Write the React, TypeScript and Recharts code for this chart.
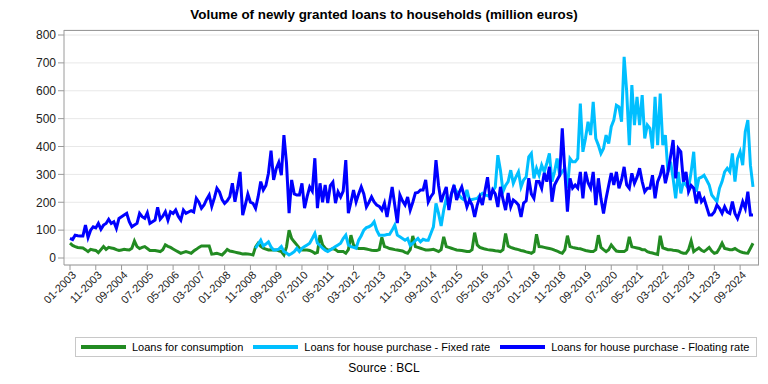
import React from 'react';
import { LineChart, Line, XAxis, YAxis, CartesianGrid } from 'recharts';

// monthly figures, million euros, 01-2003 .. 02-2025
const consumption: number[] = [
  53, 45, 41, 38, 37, 36, 30, 23, 31, 29, 27, 19,
  30, 41, 31, 38, 36, 34, 30, 27, 29, 31, 30, 29,
  35, 61, 41, 34, 38, 41, 34, 27, 27, 27, 25, 23,
  30, 47, 42, 38, 32, 27, 22, 17, 20, 23, 20, 17,
  25, 31, 38, 43, 43, 43, 43, 14, 15, 17, 14, 11,
  20, 31, 25, 23, 21, 19, 17, 14, 15, 14, 13, 11,
  40, 53, 42, 35, 32, 29, 30, 29, 29, 26, 23, 11,
  40, 100, 70, 58, 47, 35, 29, 29, 29, 27, 23, 17,
  20, 82, 47, 35, 29, 30, 34, 30, 23, 23, 23, 17,
  30, 82, 47, 38, 34, 34, 34, 32, 30, 28, 27, 27,
  30, 74, 41, 38, 34, 32, 30, 29, 27, 25, 20, 17,
  30, 79, 41, 38, 35, 32, 29, 29, 30, 31, 27, 23,
  30, 76, 41, 38, 35, 32, 29, 28, 27, 25, 23, 23,
  30, 91, 47, 38, 35, 32, 30, 29, 28, 26, 25, 23,
  30, 88, 43, 38, 35, 32, 30, 27, 25, 22, 20, 17,
  23, 85, 41, 40, 38, 36, 34, 32, 28, 25, 20, 17,
  30, 80, 41, 38, 36, 34, 33, 30, 27, 25, 23, 23,
  30, 82, 38, 30, 23, 30, 47, 35, 25, 23, 23, 23,
  30, 76, 40, 38, 36, 34, 30, 30, 23, 20, 18, 15,
  13, 80, 36, 33, 30, 30, 28, 27, 25, 20, 17, 17,
  30, 61, 23, 30, 36, 28, 23, 30, 38, 25, 17, 20,
  35, 53, 34, 32, 30, 30, 34, 28, 23, 20, 18, 17,
  35, 53,
];

// fixed rate series only starts in 01-2009
const fixedStart = '01-2009';
const fixedRate: number[] = [
  35, 50, 64, 43, 50, 58, 40, 29, 29, 32, 41, 23,
  18, 11, 16, 23, 35, 23, 35, 41, 47, 53, 70, 88,
  53, 45, 35, 28, 23, 29, 35, 41, 47, 53, 70, 82,
  47, 41, 38, 35, 64, 80, 100, 109, 112, 118, 130, 100,
  82, 82, 82, 84, 85, 100, 118, 82, 76, 70, 64, 70,
  45, 53, 62, 70, 58, 67, 64, 64, 88, 112, 196, 160,
  115, 172, 214, 184, 230, 255, 238, 225, 214, 208, 244, 208,
  210, 212, 214, 225, 232, 226, 224, 220, 240, 255, 369, 315,
  238, 260, 274, 315, 268, 290, 309, 255, 280, 291, 363, 375,
  286, 322, 297, 333, 309, 340, 375, 274, 309, 357, 297, 310,
  322, 250, 357, 345, 345, 357, 554, 381, 429, 489, 441, 560,
  429, 405, 375, 393, 441, 411, 471, 495, 548, 542, 489, 722,
  596, 405, 620, 477, 578, 477, 584, 429, 477, 465, 393, 578,
  405, 590, 405, 441, 309, 345, 286, 214, 309, 232, 274, 262,
  250, 309, 381, 238, 286, 290, 297, 280, 262, 226, 214, 202,
  250, 274, 309, 322, 309, 375, 274, 357, 381, 333, 453, 495,
  333, 255,
];

const floatingRate: number[] = [
  70, 66, 82, 80, 79, 79, 118, 74, 100, 112, 108, 124,
  103, 118, 124, 139, 124, 130, 106, 142, 148, 154, 160, 130,
  112, 118, 124, 160, 148, 142, 162, 124, 130, 136, 182, 139,
  150, 166, 136, 166, 160, 172, 150, 136, 172, 160, 165, 170,
  165, 214, 200, 178, 190, 210, 226, 185, 215, 250, 237, 210,
  196, 205, 220, 268, 202, 250, 309, 154, 190, 229, 200, 196,
  178, 220, 274, 244, 260, 304, 385, 280, 320, 343, 297, 441,
  340, 161, 280, 230, 226, 226, 268, 179, 220, 255, 240, 358,
  179, 268, 200, 262, 197, 260, 272, 197, 237, 219, 240, 351,
  161, 200, 244, 201, 230, 255, 230, 183, 200, 219, 201, 190,
  185, 172, 197, 147, 200, 255, 190, 125, 226, 205, 190, 219,
  172, 200, 233, 235, 244, 244, 280, 201, 220, 233, 351, 260,
  201, 230, 255, 172, 230, 262, 208, 235, 255, 220, 183, 208,
  190, 147, 190, 219, 190, 240, 290, 208, 244, 230, 183, 255,
  210, 172, 233, 183, 208, 201, 190, 147, 197, 205, 286, 230,
  214, 274, 274, 250, 305, 274, 327, 202, 262, 280, 297, 465,
  309, 166, 286, 251, 262, 251, 309, 214, 309, 270, 251, 309,
  190, 286, 214, 160, 214, 260, 305, 262, 309, 250, 280, 327,
  262, 250, 304, 268, 290, 322, 274, 238, 250, 250, 297, 214,
  274, 297, 333, 268, 309, 363, 423, 286, 393, 381, 274, 309,
  238, 260, 250, 196, 238, 202, 214, 184, 154, 154, 165, 190,
  178, 160, 184, 165, 160, 202, 160, 142, 170, 202, 178, 238,
  154, 154,
];

const yTicks = [0, 100, 200, 300, 400, 500, 600, 700, 800];

const months: string[] = consumption.map((_, i) => {
  const m = (i % 12) + 1;
  return `${m < 10 ? '0' : ''}${m}-${2003 + Math.floor(i / 12)}`;
});

const fixedOffset = months.indexOf(fixedStart);

const data = months.map((month, i) => ({
  month,
  consumption: consumption[i],
  fixed: i >= fixedOffset ? fixedRate[i - fixedOffset] : null,
  floating: floatingRate[i],
}));

const FONT = '"Liberation Sans", Arial, sans-serif';
const AXIS = '#9a9a9a';

const series = [
  { key: 'consumption', name: 'Loans for consumption', color: '#228b22' },
  { key: 'fixed', name: 'Loans for house purchase - Fixed rate', color: '#00bfff' },
  { key: 'floating', name: 'Loans for house purchase - Floating rate', color: '#0000ff' },
];

const MonthTick = (props: any) => {
  const { x, y, payload } = props;
  return (
    <g transform={`translate(${x + 4},${y + 1}) rotate(-45)`}>
      <text x={0} y={0} dy="0.35em" textAnchor="end" fontSize={11} fontFamily={FONT} fill="#222">
        {payload.value}
      </text>
    </g>
  );
};

const App: React.FC = () => {
  return (
    <div style={{ position: 'absolute', left: 0, top: 0, width: 768, height: 384, background: '#fff' }}>
      <div style={{ position: 'absolute', left: 0, top: 7, width: 768, textAlign: 'center', fontFamily: FONT, fontWeight: 'bold', fontSize: 13.4, color: '#000' }}>
        Volume of newly granted loans to households (million euros)
      </div>

      <LineChart width={768} height={384} data={data} margin={{ top: 30, right: 9, left: 0, bottom: 59 }}>
        <CartesianGrid vertical={false} stroke="#e8e8e8" />
        <XAxis
          dataKey="month"
          interval={9}
          height={60}
          padding={{ left: 6, right: 6 }}
          tick={<MonthTick />}
          tickSize={5}
          axisLine={{ stroke: AXIS }}
          tickLine={{ stroke: AXIS }}
        />
        <YAxis
          width={64}
          domain={[0, 800]}
          ticks={yTicks}
          padding={{ top: 5, bottom: 7 }}
          tickSize={6}
          tick={{ fontSize: 12, fontFamily: FONT, fill: '#222' }}
          axisLine={{ stroke: AXIS }}
          tickLine={{ stroke: AXIS }}
        />
        {series.map((s) => (
          <Line
            key={s.key}
            type="linear"
            dataKey={s.key}
            name={s.name}
            stroke={s.color}
            strokeWidth={3}
            dot={false}
            connectNulls={false}
            isAnimationActive={false}
          />
        ))}
      </LineChart>

      {/* top + right frame of the plot area */}
      <div
        style={{
          position: 'absolute', left: 64, top: 30, width: 695, height: 235,
          borderTop: `1px solid ${AXIS}`, borderRight: `1px solid ${AXIS}`,
          boxSizing: 'border-box', pointerEvents: 'none',
        }}
      />

      <div
        style={{
          position: 'absolute', left: 75, top: 337, width: 680, height: 18,
          border: '1px solid #c8c8c8', display: 'flex', alignItems: 'center',
          fontFamily: FONT, fontSize: 11, color: '#000', boxSizing: 'content-box',
        }}
      >
        {series.map((s) => (
          <div key={s.key} style={{ display: 'flex', alignItems: 'center', marginLeft: 5, marginRight: 5 }}>
            <span style={{ display: 'inline-block', width: 45, height: 4, background: s.color, marginRight: 6 }} />
            <span>{s.name}</span>
          </div>
        ))}
      </div>

      <div style={{ position: 'absolute', left: 0, top: 361, width: 768, textAlign: 'center', fontFamily: FONT, fontSize: 12, color: '#000' }}>
        Source : BCL
      </div>
    </div>
  );
};

export default App;
